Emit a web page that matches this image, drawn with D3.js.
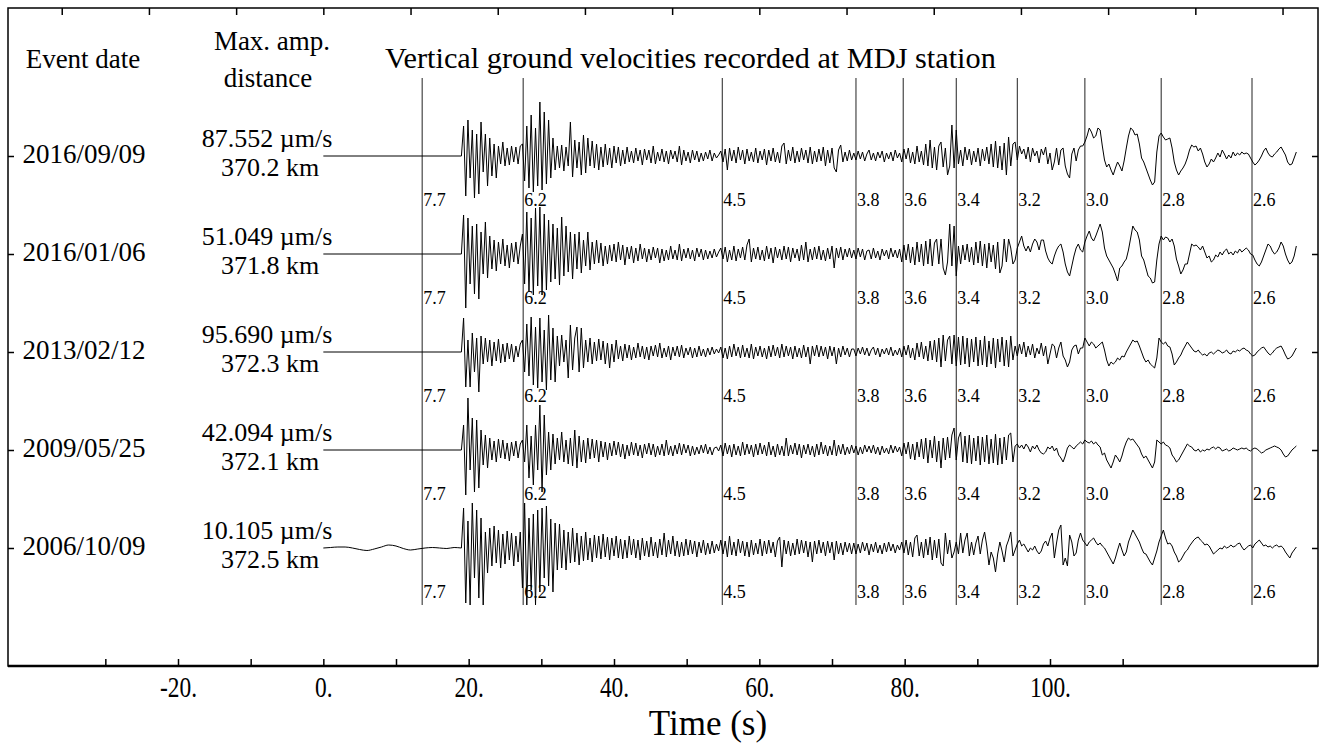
<!DOCTYPE html>
<html>
<head>
<meta charset="utf-8">
<script src="https://cdn.jsdelivr.net/npm/d3@7"></script>
<style>
body { margin: 0; background: #fff; }
text { font-family: "Liberation Serif", "Times New Roman", serif; fill: #000; }
</style>
</head>
<body>
<script>
//////////////////////////////////////////////////////////////////
// MDJ station vertical velocity records, 5 events
//////////////////////////////////////////////////////////////////

// event labels
var eventDates = ["2016/09/09", "2016/01/06", "2013/02/12", "2009/05/25", "2006/10/09"];
var maxAmps = ["87.552", "51.049", "95.690", "42.094", "10.105"];
var distances = ["370.2", "371.8", "372.3", "372.1", "372.5"];

// group velocity marks (km/s) and the time they sit at (s)
var groupVel = ["7.7", "6.2", "4.5", "3.8", "3.6", "3.4", "3.2", "3.0", "2.8", "2.6"];
var groupVelTimes = [13.6, 27.5, 54.9, 73.3, 79.8, 87.1, 95.5, 104.8, 115.3, 127.8];

// axis ticks
var bottomTicks = [-30, -20, -10, 0, 10, 20, 30, 40, 50, 60, 70, 80, 90, 100, 110];
var bottomLabels = [-20, 0, 20, 40, 60, 80, 100];
var topTicks = [-36, -24, -12, 0, 12, 24, 36, 48, 60, 72, 84, 96, 108, 120, 132];

// sampling of the traces
var onsetTime = 19.0;   // first sample of each trace
var sampleStep = 0.3;   // s between samples
var preStep = 1.0;      // s between samples of the pre-event noise

// 2006 record has visible noise before the onset
var preNoise2006 = [0, 0.5, 1, 1, 0, -1.5, -2.5, -1, 1, 3, 2, -0.5, -2, -1, 0, 0.5, 0, -0.5, 0.5, 0];

// normalised amplitudes (relative units), one per sample
var wave20160909 = [
 0,30,-40,36,-22,26,-42,22,-38,34,-16,22,-30,18,-20,12,-22,10,-8,14,-10,8,-9,10,-6,9,-8,10,
 12,-25,30,-32,41,-36,28,-30,54,-34,44,-28,36,-22,18,-14,10,
 -12,11,-15,9,-10,34,-21,16,-12,14,-19,21,-17,18,-10,15,-12,12,-14,9,-11,12,-9,8,-12,10,-7,9,-10,6,-8,9,-6,5,-7,8,-5,6,-9,7,-4,6,-7,10,-8,4,-5,7,-6,5,-8,6,-3,5,-6,10,-9,6,-5,4,-7,6,-4,5,-6,3,-5,4,-3,6,-5,3,-2,1,
 5,-6,7,-14,8,-5,6,-7,9,-4,6,-8,7,-5,4,-6,8,-7,5,-4,7,-9,6,-5,8,-6,4,-7,10,13,-8,6,-5,9,-7,5,-6,8,-4,6,-7,9,-8,5,-6,7,-5,9,-10,6,-7,8,-12,-16,6,11,-6,4,-5,6,-4,
 3,-4,5,-3,4,-5,2,6,-4,3,-5,4,-2,5,-6,3,-3,4,-5,6,-2,3,
 -6,7,-3,8,-7,4,-8,10,-6,5,-9,12,-10,16,-12,9,-14,10,14,-11,8,-19,-10,31,
 -12,26,-8,6,-10,9,-4,7,-9,5,-6,8,-10,7,-5,9,-8,12,-11,15,-12,10,-14,13,-19,19,-10,12,
 14,-4,10,2,7,-3,9,-6,8,0,5,-7,7,1,9,-8,3,-14,-6,8,-9,6,8,-10,-18,-22,2,8,-5,6,10,
 10,14,20,28,24,18,20,28,26,10,-4,-11,-8,-14,-19,-12,-6,-10,-15,-5,8,20,28,26,21,22,12,-2,-6,-12,-18,-24,-29,-26,4,
 20,23,19,16,17,18,8,-6,-14,-19,-15,-12,-8,-2,6,11,9,10,5,8,2,-6,-11,-8,-3,-6,-2,3,-1,6,2,-3,1,-2,4,0,3,1,4,2,3,
 2,-2,-6,-9,-7,-4,0,5,8,3,0,-1,2,4,7,9,5,1,-6,-9,-8,-2,4
];

var wave20160106 = [
 0,39,-54,36,-30,28,-40,30,-45,22,-20,32,-24,18,-15,14,-17,12,-10,15,-12,9,-14,11,-8,12,-10,8,
 20,-30,42,-38,36,-41,46,-32,47,-41,40,-36,34,-28,30,-25,26,
 -31,37,-22,28,-18,22,-25,20,-15,22,-19,14,-12,22,-16,12,-10,14,-9,11,-12,8,-10,9,-7,10,-8,12,-6,9,-11,7,-5,8,-9,6,-7,10,-5,6,-8,5,-6,7,-4,6,-9,5,-7,4,-6,8,-5,4,-6,10,-7,5,-4,6,-5,4,-7,6,-3,5,-6,4,-5,3,-4,5,-3,2,
 6,-5,7,-8,4,-6,8,-7,5,-4,7,-6,9,15,-8,6,-5,7,-6,4,-7,8,-5,6,-9,7,-4,5,-6,8,-5,7,-8,6,-4,5,-7,9,-6,12,-8,5,-6,7,-5,8,-6,4,-7,6,-5,8,-14,6,-4,7,-6,5,-3,6,-4,
 4,-5,6,-3,5,-6,3,4,-5,6,-4,3,-6,5,-2,4,-5,6,-3,4,-4,5,
 -8,9,-6,10,-9,7,-11,12,-8,10,-12,13,-10,15,-12,11,15,-10,15,-14,-21,-8,30,-12,
 28,-22,8,-10,9,-6,10,-8,7,-11,12,-9,13,-12,10,-14,11,-8,9,-15,12,-19,-12,15,-8,15,6,-10,
 -6,6,12,18,8,3,8,2,10,15,12,4,14,14,3,-4,-8,-10,-2,4,8,10,2,-10,-18,-22,-12,-2,6,10,4,
 2,12,18,23,16,13,18,24,30,22,6,-2,-6,-10,-14,-20,-27,-14,-12,-8,-5,4,16,28,24,22,14,-2,-6,-14,-22,-24,-29,-28,-6,
 10,18,14,17,16,12,15,8,-5,-12,-20,-16,-10,-10,0,10,8,9,7,4,8,2,-4,-2,-8,-6,-1,-3,2,-1,3,5,0,2,-1,3,1,5,2,4,6,
 4,0,-1,-6,-10,-12,-8,-2,4,10,8,3,0,2,6,12,8,0,-6,-10,-8,-2,8
];

var wave20130212 = [
 0,34,-35,12,-35,19,-20,14,-40,16,-12,14,-10,12,-14,10,-9,13,-11,8,-10,9,-7,8,-10,6,-5,8,
 12,-20,28,-24,35,-33,25,-36,34,-30,22,-38,37,-28,24,-30,16,
 -14,17,-10,12,-26,27,-18,14,25,-20,24,-16,12,-10,14,-12,10,-9,13,-8,11,-12,9,-16,8,-10,12,-7,6,-9,8,-6,7,-8,5,-6,9,-5,6,-7,5,-8,6,-4,7,-5,9,-6,4,-5,6,-8,5,-4,6,-5,7,-6,4,-3,5,-6,4,-5,6,-4,3,-5,4,-3,5,-2,3,-1,
 5,-6,4,-7,6,-5,8,-4,5,-6,7,-5,4,-6,8,-7,5,-4,6,-5,4,-7,6,-5,7,-4,5,-6,8,-5,6,-4,5,-7,6,-5,4,-6,7,-5,5,-12,6,-4,7,-5,6,-4,5,-7,6,-4,5,-12,4,-5,6,-3,4,-5,3,
 3,-4,4,-2,5,-3,4,-4,2,5,-3,4,-5,3,-2,4,-3,5,-4,2,-3,4,
 -5,6,-3,7,-6,4,-8,9,-5,10,-7,6,-9,11,-8,12,-10,14,-15,17,-9,12,16,-12,
 17,-14,15,-13,16,-12,14,-15,13,-10,15,-14,12,-13,16,-15,11,-12,14,-16,13,-10,15,-14,12,-15,16,-8,
 6,-4,8,-2,10,-5,6,-3,8,-6,4,-2,9,-4,6,-12,-2,8,6,-6,4,10,-4,-8,-15,-10,2,6,7,-2,4,
 4,14,10,6,10,8,4,6,8,10,2,-8,-14,-10,-12,-10,-6,-8,-4,-5,0,4,8,12,10,11,6,0,-6,-10,-8,-12,-14,-16,-6,
 14,10,8,10,6,5,-2,-13,-10,-6,-3,2,6,10,7,4,1,0,2,-1,-3,-2,-4,-1,0,-2,0,2,1,-1,0,2,-1,-2,1,0,2,1,3,4,2,
 1,-2,-4,-3,0,2,4,5,2,-1,-3,-1,2,4,5,6,2,-3,-7,-6,-4,0,4
];

var wave20090525 = [
 0,25,-45,52,-20,32,-42,30,-38,20,-15,15,-18,12,-10,9,-12,11,-8,10,-9,7,-11,8,-6,9,-8,6,
 10,-12,25,-28,14,-35,25,-20,45,-42,35,-25,18,-20,16,-14,12,
 -10,18,-12,10,-14,12,-16,20,-18,14,-12,10,-13,12,-9,11,-8,10,-12,9,-7,8,-10,7,-6,9,-5,8,-7,6,-9,5,-6,8,-5,7,-6,5,-8,6,-4,7,-5,6,-7,4,-5,6,-6,10,-5,4,-6,5,-4,7,-5,6,-3,5,-6,4,-5,3,-4,5,-3,6,-4,3,-5,2,3,-1,
 5,-6,7,-4,5,-7,6,-5,4,-6,8,-5,6,-4,5,-7,6,-5,7,-4,5,-6,8,-5,4,-7,6,-5,4,-6,12,-6,5,-4,7,-5,6,-8,5,-4,6,-5,4,-7,6,-5,8,-4,5,-6,4,-5,10,-6,5,-4,6,-5,3,-4,5,
 -3,4,-5,3,-4,5,-2,4,-3,5,-4,3,-5,4,-3,2,-4,5,-3,4,-2,3,
 -6,7,-4,8,-9,6,-10,8,-7,11,-9,12,-13,10,-8,14,-12,9,-18,12,-10,13,-8,15,
 22,-10,12,18,-12,14,-13,15,-14,12,-11,14,-15,13,-12,15,-14,11,-13,16,-15,12,-14,13,-10,15,17,-12,
 4,6,2,5,1,6,3,-2,4,1,5,0,-3,-4,-2,3,1,4,-1,2,-5,-8,-12,-6,2,5,3,1,4,6,8,
 6,10,8,7,9,6,8,5,3,-5,-3,-10,-14,-18,-12,-5,-8,-12,-6,2,8,12,10,11,8,5,2,-4,-8,-6,-10,-14,-18,-12,10,
 8,6,8,5,4,2,-5,-8,-12,-10,-6,-2,2,6,4,3,0,-1,1,-2,0,-1,1,0,2,3,1,3,2,-1,0,1,-1,0,2,1,0,1,2,1,2,
 0,-1,1,2,1,-1,-3,-2,0,1,2,3,4,3,2,0,-4,-7,-6,-3,0,2,4
];

var wave20061009 = [
 0,40,-55,27,-57,45,-30,38,-50,30,-57,16,-25,20,-18,22,-15,18,-20,14,-16,17,-12,15,-18,12,-14,16,
 -40,45,-57,30,-42,34,-57,38,-44,40,-30,42,-38,29,-44,25,-22,
 24,-20,18,-22,16,-15,20,-14,15,-17,12,-13,16,-12,10,-14,13,-10,12,-11,14,-9,11,-12,10,-8,12,-10,9,-11,8,-10,12,-7,9,-10,8,-12,10,-8,7,-9,11,-8,6,-10,9,-7,15,-9,8,-6,12,-8,7,-9,6,-8,9,-7,8,-6,7,-9,6,-5,8,-7,5,-6,7,-5,4,-3,
 8,-6,7,-9,12,-7,6,-8,9,-5,7,-8,6,-9,8,-7,5,-6,9,-8,7,-6,8,-5,6,-9,7,11,-19,8,-6,7,-8,5,-7,9,-6,8,-5,7,-9,6,-14,7,-6,8,-5,6,-8,7,-5,6,-12,7,-6,5,-7,6,-4,5,-6,
 5,-6,4,-5,6,-3,5,-7,4,-4,6,-5,3,-6,5,-4,6,-3,4,-5,3,-2,
 6,-5,8,-7,6,-9,10,13,-8,6,-10,9,-7,11,-12,8,-10,9,-15,-18,15,-6,8,-10,
 -4,6,-6,15,-5,8,15,-8,6,-7,5,12,-6,8,16,2,-17,-4,-10,-24,-6,6,-3,-14,2,8,16,-8,
 -2,4,8,2,4,0,-4,0,-2,2,-3,-6,-3,4,7,2,10,15,-10,5,18,23,-17,-10,-18,13,6,-8,-5,8,15,
 8,5,2,6,8,10,6,3,5,2,0,-4,-8,-12,-16,-10,-2,5,-2,-8,-4,6,12,18,14,10,6,0,-5,-6,-10,-14,-17,-10,-3,
 6,12,18,10,4,5,2,-4,-8,-14,-12,-8,-4,-2,2,5,8,10,11,8,6,3,4,2,-2,-6,-4,-2,0,-1,2,0,1,3,1,2,4,5,1,-2,0,
 2,3,0,4,6,8,5,2,3,1,2,0,2,3,1,2,0,-4,-7,-10,-5,-2,1
];

var waves = [wave20160909, wave20160106, wave20130212, wave20090525, wave20061009];
var preNoise = [null, null, null, null, preNoise2006];

///////////////////////////
// plot parameter
var width = 1327, height = 746;
var frame = {left: 8, top: 8, right: 1318, bottom: 666};

var svg = d3.select("body")
	.append("svg")
	.attr("width", width)
	.attr("height", height);

var x = d3.scaleLinear().domain([-20, 100]).range([178, 1050]);
var yBase = d3.scalePoint().domain(eventDates).range([156, 548]);
var amp = d3.scaleLinear().domain([-60, 60]).range([60, -60]);

// frame
svg.append("rect")
	.attr("x", frame.left).attr("y", frame.top)
	.attr("width", frame.right - frame.left)
	.attr("height", frame.bottom - frame.top)
	.attr("fill", "none")
	.attr("stroke", "#000")
	.attr("stroke-width", 1.5);
svg.append("line")
	.attr("x1", frame.left).attr("x2", frame.right)
	.attr("y1", frame.bottom).attr("y2", frame.bottom)
	.attr("stroke", "#000")
	.attr("stroke-width", 2.5);

// bottom axis
var xAxis = svg.append("g")
	.attr("transform", "translate(0," + frame.bottom + ")")
	.call(d3.axisBottom(x)
		.tickValues(bottomTicks)
		.tickSize(-7)
		.tickPadding(10)
		.tickFormat(function(d) { return bottomLabels.indexOf(d) >= 0 ? d + "." : ""; }));
xAxis.select(".domain").remove();
xAxis.selectAll("line").attr("stroke-width", 1.5);
xAxis.selectAll("text")
	.attr("font-family", "Liberation Serif")
	.attr("font-size", 30)
	.attr("transform", "scale(0.78,1)");

// top axis, ticks only
var xTop = svg.append("g")
	.attr("transform", "translate(0," + frame.top + ")")
	.call(d3.axisTop(x).tickValues(topTicks).tickSize(-7).tickFormat(""));
xTop.select(".domain").remove();
xTop.selectAll("line").attr("stroke-width", 1.5);

// left / right ticks at each record
var yLeft = svg.append("g")
	.attr("transform", "translate(" + frame.left + ",0)")
	.call(d3.axisLeft(yBase).tickSize(-6).tickFormat(""));
yLeft.select(".domain").remove();
yLeft.selectAll("line").attr("stroke-width", 1.5);
var yRight = svg.append("g")
	.attr("transform", "translate(" + frame.right + ",0)")
	.call(d3.axisRight(yBase).tickSize(-6).tickFormat(""));
yRight.select(".domain").remove();
yRight.selectAll("line").attr("stroke-width", 1.5);

// axis title
svg.append("text")
	.attr("x", 708).attr("y", 735)
	.attr("text-anchor", "middle")
	.attr("font-size", 35)
	.text("Time (s)");

// headers
svg.append("text").attr("x", 83).attr("y", 68)
	.attr("text-anchor", "middle").attr("font-size", 27).text("Event date");
svg.append("text").attr("x", 272).attr("y", 50)
	.attr("text-anchor", "middle").attr("font-size", 27).text("Max. amp.");
svg.append("text").attr("x", 268).attr("y", 87)
	.attr("text-anchor", "middle").attr("font-size", 27).text("distance");
svg.append("text").attr("x", 385).attr("y", 68)
	.attr("text-anchor", "start").attr("font-size", 30.3)
	.text("Vertical ground velocities recorded at MDJ station");

// group velocity lines
svg.selectAll(".gv")
	.data(groupVelTimes)
	.enter()
	.append("line")
	.attr("class", "gv")
	.attr("x1", function(d) { return x(d); })
	.attr("x2", function(d) { return x(d); })
	.attr("y1", 78).attr("y2", 605)
	.attr("stroke", "#222")
	.attr("stroke-width", 1);

// labels under each record
eventDates.forEach(function(ev) {
	svg.selectAll(null)
		.data(groupVel)
		.enter()
		.append("text")
		.attr("x", function(d, i) { return x(groupVelTimes[i]) + 1; })
		.attr("y", yBase(ev) + 50)
		.attr("font-size", 18)
		.text(function(d) { return d; });
});

// event texts
eventDates.forEach(function(ev, i) {
	var yb = yBase(ev);
	svg.append("text").attr("x", 84).attr("y", yb + 7)
		.attr("text-anchor", "middle").attr("font-size", 27).text(ev);
	svg.append("text").attr("x", 267).attr("y", yb - 9)
		.attr("text-anchor", "middle").attr("font-size", 26).text(maxAmps[i] + " \u00b5m/s");
	svg.append("text").attr("x", 270).attr("y", yb + 20)
		.attr("text-anchor", "middle").attr("font-size", 26).text(distances[i] + " km");
});

// traces
var line = d3.line()
	.x(function(d) { return x(d.t); })
	.y(function(d) { return d.y; });
var smooth = d3.line()
	.curve(d3.curveMonotoneX)
	.x(function(d) { return x(d.t); })
	.y(function(d) { return d.y; });

waves.forEach(function(w, k) {
	var yb = yBase(eventDates[k]);
	// before onset
	var pre;
	if (preNoise[k]) {
		pre = preNoise[k].map(function(v, i) { return {t: i * preStep, y: yb + amp(v)}; });
	} else {
		pre = [{t: 0, y: yb}, {t: onsetTime, y: yb}];
	}
	svg.append("path")
		.attr("d", smooth(pre))
		.attr("fill", "none")
		.attr("stroke", "#000")
		.attr("stroke-width", 1);
	var pts = w.map(function(v, i) { return {t: onsetTime + i * sampleStep, y: yb + amp(v)}; });
	svg.append("path")
		.attr("d", line(pts))
		.attr("fill", "none")
		.attr("stroke", "#000")
		.attr("stroke-width", 1)
		.attr("stroke-linejoin", "round");
});
</script>
</body>
</html>
